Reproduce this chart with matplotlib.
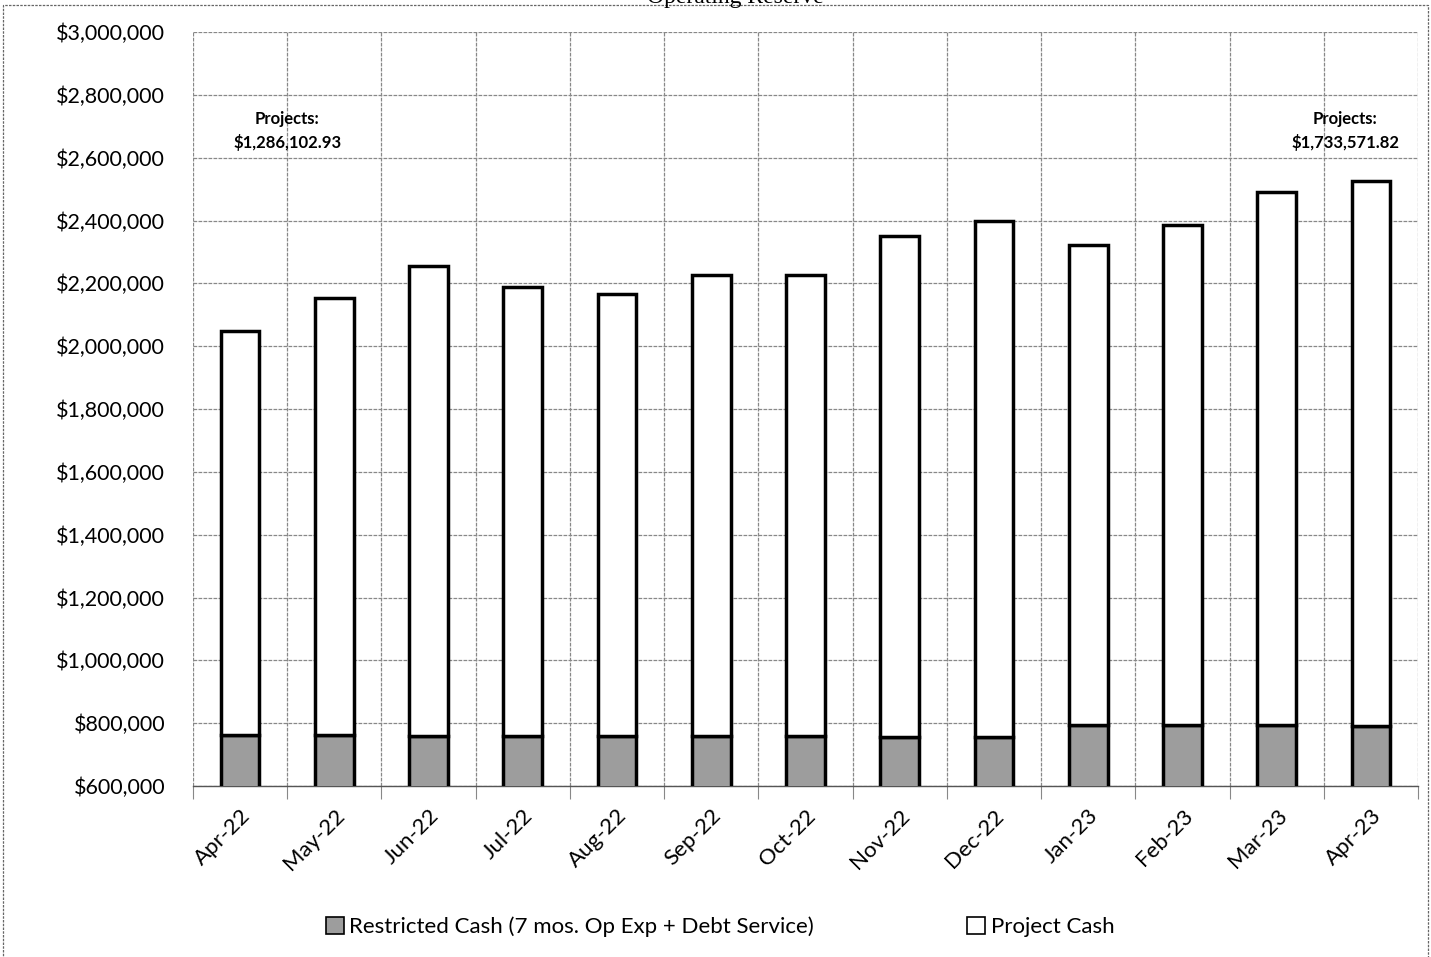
import matplotlib
matplotlib.use("Agg")
import matplotlib.pyplot as plt
from matplotlib.patches import Patch, Rectangle
from matplotlib.ticker import FuncFormatter, FixedLocator
import numpy as np

months = ["Apr-22", "May-22", "Jun-22", "Jul-22", "Aug-22", "Sep-22", "Oct-22",
          "Nov-22", "Dec-22", "Jan-23", "Feb-23", "Mar-23", "Apr-23"]
restricted = [762000, 761000, 760000, 760000, 759000, 758000, 758000,
              757000, 756000, 795000, 794000, 793000, 792000]
totals = [2048000, 2153000, 2255000, 2188000, 2166000, 2227000, 2226000,
          2351000, 2398000, 2322000, 2386000, 2491000, 2526000]
project = [t - r for t, r in zip(totals, restricted)]
project[0] = 1286102.93
project[-1] = 1733571.82
y_ticks = list(range(600000, 3000001, 200000))
notes = ["Projects:\n$1,286,102.93", "Projects:\n$1,733,571.82"]

plt.rcParams['font.family'] = ['Lato', 'DejaVu Sans']

fig = plt.figure(figsize=(14.31, 9.57), dpi=100)
ax = fig.add_axes([193/1431, 1 - 786/957, (1418-193)/1431, (786-32)/957])

x = np.arange(len(months))
w = 0.41
ax.bar(x, restricted, width=w, color='#9d9d9d', edgecolor='black', linewidth=2.5, zorder=3,
       label="Restricted Cash (7 mos. Op Exp + Debt Service)")
ax.bar(x, project, width=w, bottom=restricted, color='white', edgecolor='black', linewidth=2.5,
       zorder=3, label="Project Cash")

ax.set_xlim(-0.5, len(months) - 0.5)
ax.set_ylim(600000, 3000000)
ax.yaxis.set_major_locator(FixedLocator(y_ticks))
ax.yaxis.set_major_formatter(FuncFormatter(lambda v, p: "${:,.0f}".format(v)))
ax.set_xticks(x)
ax.set_xticklabels(months, rotation=45, ha='right', rotation_mode='anchor', fontsize=16)
ax.set_xticks(np.arange(-0.5, len(months), 1.0), minor=True)
ax.tick_params(axis='x', which='major', length=0, pad=14)
ax.tick_params(axis='x', which='minor', length=9, color='#888888', width=0.8)
ax.tick_params(axis='y', length=0, labelsize=15.5, pad=20)

ax.grid(True, axis='y', which='major', color='#888888', linestyle=(0, (3, 1)), linewidth=0.9, zorder=0)
ax.grid(True, axis='x', which='minor', color='#888888', linestyle=(0, (3, 1)), linewidth=0.9, zorder=0)
ax.grid(False, axis='x', which='major')
for s in ax.spines.values():
    s.set_visible(False)
ax.spines['bottom'].set_visible(True)
ax.spines['bottom'].set_color('#555555')
ax.spines['bottom'].set_linewidth(1.0)

ax.text(0.5, 2685000, notes[0], ha='center', va='center', fontsize=12, fontweight='bold',
        linespacing=1.55, zorder=4)
ax.text(len(months) - 1.27, 2685000, notes[1], ha='center', va='center', fontsize=12,
        fontweight='bold', linespacing=1.55, zorder=4)

# partially visible title at the very top (cut off in the reference)
fig.text(735/1431, 1 - 3/957, "Operating Reserve", ha='center', va='baseline', fontsize=17,
         family='Liberation Serif')

# figure border (dotted)
fig.patches.append(Rectangle((3/1431, -0.01), (1428-3)/1431, 1 - 5/957 + 0.01,
                             transform=fig.transFigure, fill=False, edgecolor='#666666',
                             linestyle=(0, (2, 1)), linewidth=0.9))

handles = [Patch(facecolor='#9d9d9d', edgecolor='black', linewidth=1.2),
           Patch(facecolor='white', edgecolor='black', linewidth=1.2)]
labels = ["Restricted Cash (7 mos. Op Exp + Debt Service)", "Project Cash"]
fig.legend(handles, labels, loc='center', bbox_to_anchor=(720/1431, 1 - 927/957), ncol=2,
           frameon=False, fontsize=16, handlelength=0.8, handleheight=0.8,
           handletextpad=0.25, columnspacing=6.9)

fig.savefig("out.png", dpi=100)
